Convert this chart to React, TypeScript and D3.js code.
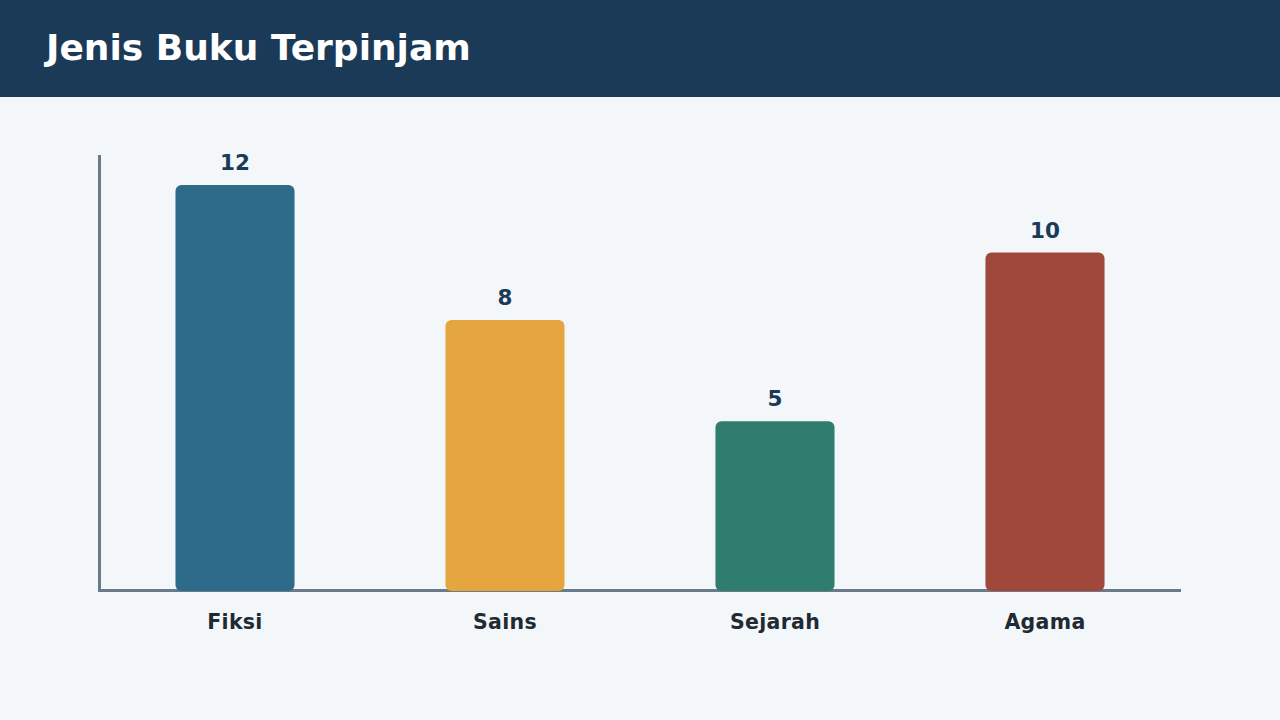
import React, { useEffect, useRef } from "react";
import * as d3 from "d3";

const categories = ["Fiksi", "Sains", "Sejarah", "Agama"];
const values = [12, 8, 5, 10];
const barColors = ["#2e6b8a", "#e6a63f", "#2e7d6e", "#a0483b"];
const title = "Jenis Buku Terpinjam";

const App: React.FC = () => {
  const svgRef = useRef<SVGSVGElement | null>(null);

  useEffect(() => {
    const svg = d3.select(svgRef.current);
    svg.selectAll("*").remove();

    const width = 1280;
    const height = 720;
    const font = "'DejaVu Sans', sans-serif";

    svg.append("rect").attr("width", width).attr("height", height).attr("fill", "#f3f7fa");
    svg.append("rect").attr("width", width).attr("height", 97).attr("fill", "#1a3a57");
    svg
      .append("text")
      .attr("x", 46)
      .attr("y", 60)
      .attr("fill", "#ffffff")
      .attr("font-family", font)
      .attr("font-weight", "bold")
      .attr("font-size", 36)
      .text(title);

    const x = d3.scaleBand().domain(categories).range([100, 1180]).paddingInner(0.559).paddingOuter(0.2795);
    const y = d3.scaleLinear().domain([0, 12]).range([590, 185]);

    // axes
    svg
      .append("line")
      .attr("x1", 99.5)
      .attr("x2", 99.5)
      .attr("y1", 155)
      .attr("y2", 592)
      .attr("stroke", "#6b7a89")
      .attr("stroke-width", 3);
    svg
      .append("line")
      .attr("x1", 98)
      .attr("x2", 1181)
      .attr("y1", 590.5)
      .attr("y2", 590.5)
      .attr("stroke", "#6b7a89")
      .attr("stroke-width", 3);

    const bars = svg.append("g");
    bars
      .selectAll("rect")
      .data(values)
      .enter()
      .append("rect")
      .attr("x", (_, i) => x(categories[i]) || 0)
      .attr("y", (d) => y(d))
      .attr("width", x.bandwidth())
      .attr("height", (d) => y(0) + 1 - y(d))
      .attr("rx", 6)
      .attr("fill", (_, i) => barColors[i]);

    svg
      .append("g")
      .selectAll("text")
      .data(values)
      .enter()
      .append("text")
      .attr("x", (_, i) => (x(categories[i]) || 0) + x.bandwidth() / 2)
      .attr("y", (d) => y(d) - 15)
      .attr("text-anchor", "middle")
      .attr("fill", "#1a3a57")
      .attr("font-family", font)
      .attr("font-weight", "bold")
      .attr("font-size", 21.5)
      .text((d) => d);

    svg
      .append("g")
      .selectAll("text")
      .data(categories)
      .enter()
      .append("text")
      .attr("x", (d) => (x(d) || 0) + x.bandwidth() / 2)
      .attr("y", 629)
      .attr("text-anchor", "middle")
      .attr("fill", "#1f2a33")
      .attr("font-family", font)
      .attr("font-weight", "bold")
      .attr("font-size", 20.5)
      .attr("letter-spacing", 0.3)
      .text((d) => d);
  }, []);

  return (
    <svg
      ref={svgRef}
      width={1280}
      height={720}
      style={{ position: "absolute", left: 0, top: 0, display: "block" }}
    ></svg>
  );
};

export default App;
